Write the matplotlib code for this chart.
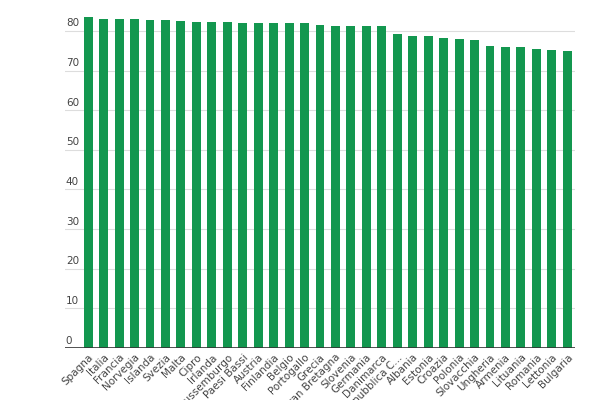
import matplotlib
matplotlib.use("Agg")
import matplotlib.pyplot as plt

countries = ["Spagna","Italia","Francia","Norvegia","Islanda","Svezia","Malta","Cipro","Irlanda",
             "Lussemburgo","Paesi Bassi","Austria","Finlandia","Belgio","Portogallo","Grecia",
             "Gran Bretagna","Slovenia","Germania","Danimarca","Repubblica C...","Albania","Estonia",
             "Croazia","Polonia","Slovacchia","Ungheria","Armenia","Lituania","Romania","Lettonia","Bulgaria"]
values = [83.5,83.1,82.9,82.9,82.7,82.7,82.4,82.3,82.3,82.3,81.9,81.9,81.9,81.9,81.9,81.6,
          81.3,81.3,81.2,81.2,79.2,78.7,78.7,78.1,78.0,77.6,76.2,76.0,76.0,75.5,75.2,74.9]
yticks = [0,10,20,30,40,50,60,70,80]

fig = plt.figure(figsize=(6,4), dpi=100)
ax = fig.add_axes([65/600, 52/400, 510/600, 333/400])
x = list(range(len(countries)))
ax.bar(x, values, width=0.58, color="#13974f", zorder=3)
ax.set_xlim(-1.5, len(countries)-0.5)
ax.set_ylim(0, 84)
for t in yticks:
    if t > 0:
        ax.axhline(t, color="#dddddd", lw=0.8, zorder=1)
    ax.text(-1.45, t+0.6, str(t), fontsize=7.5, color="#444444", ha="left", va="bottom")
ax.axhline(0, color="#333333", lw=1.2, zorder=4)
ax.set_yticks([])
ax.set_xticks(x)
ax.set_xticklabels(countries, rotation=45, ha="right", rotation_mode="anchor", fontsize=7.5, color="#444444")
ax.tick_params(axis="x", length=0, pad=3)
for s in ax.spines.values():
    s.set_visible(False)
fig.savefig("out.png", dpi=100)
